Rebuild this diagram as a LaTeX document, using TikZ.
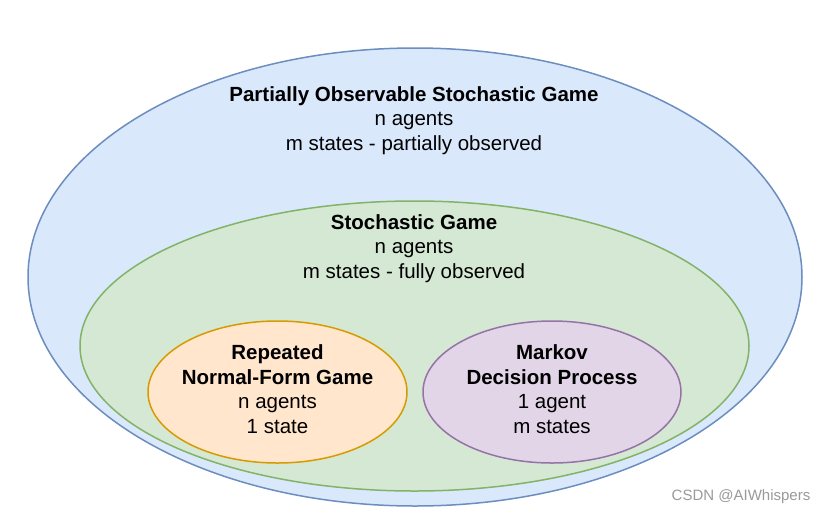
\documentclass[tikz,border=0pt]{standalone}
\usepackage{fontspec}
\setmainfont{Liberation Sans}
\usetikzlibrary{shapes.geometric}
\definecolor{bluefill}{HTML}{DAE8FC}
\definecolor{bluedraw}{HTML}{6C8EBF}
\definecolor{greenfill}{HTML}{D5E8D4}
\definecolor{greendraw}{HTML}{82B366}
\definecolor{orangefill}{HTML}{FFE6CC}
\definecolor{orangedraw}{HTML}{D79B00}
\definecolor{purplefill}{HTML}{E1D5E7}
\definecolor{purpledraw}{HTML}{9673A6}
\definecolor{wmgray}{HTML}{9A9A9A}
\tikzset{
  region/.style={ellipse, inner sep=0pt, line width=1.5pt},
  label text/.style={align=center, font=\fontsize{20.5}{24.6}\selectfont, text=black, inner sep=0pt},
}
\begin{document}
\begin{tikzpicture}[x=1pt, y=-1pt]
\path[use as bounding box, fill=white] (0,0) rectangle (825,515);
\node[region, fill=bluefill, draw=bluedraw, minimum width=774pt, minimum height=458pt] (pos) at (415,277) {};
\node[region, fill=greenfill, draw=greendraw, minimum width=669pt, minimum height=290pt] (sg) at (414.5,346) {};
\node[region, fill=orangefill, draw=orangedraw, minimum width=259pt, minimum height=142pt] (rnf) at (277.5,392) {};
\node[region, fill=purplefill, draw=purpledraw, minimum width=258pt, minimum height=142pt] (mdp) at (552,392) {};
\node[label text] (posT) at (414,120.5) {\textbf{Partially Observable Stochastic Game}\\n agents\\m states - partially observed};
\node[label text] (sgT) at (414,248.5) {\textbf{Stochastic Game}\\n agents\\m states - fully observed};
\node[label text] (rnfT) at (277.5,389) {\textbf{Repeated}\\\textbf{Normal-Form Game}\\n agents\\1 state};
\node[label text] (mdpT) at (552,389) {\textbf{Markov}\\\textbf{Decision Process}\\1 agent\\m states};
\node[font=\fontsize{15}{17}\selectfont, text=wmgray, inner sep=0pt] (wm) at (741,497) {CSDN @AIWhispers};
\end{tikzpicture}
\end{document}
